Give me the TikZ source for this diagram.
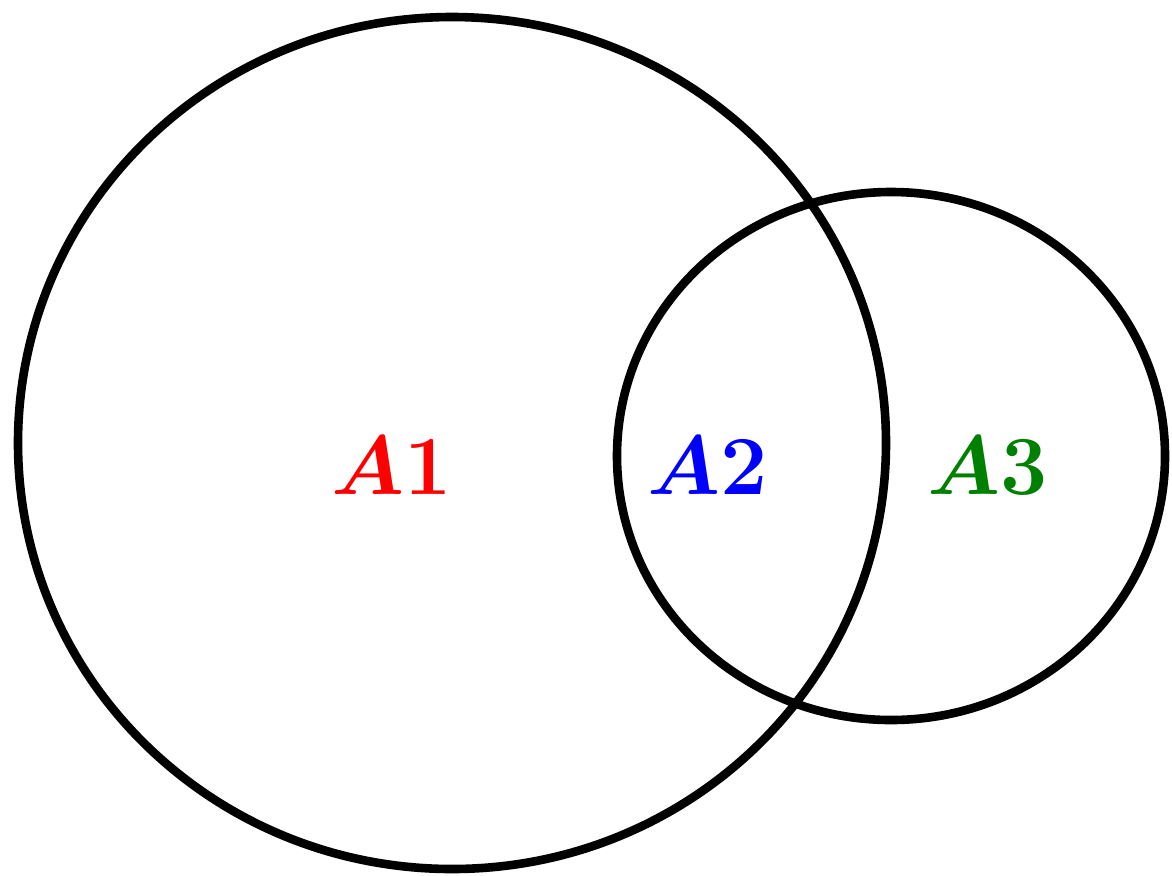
\documentclass[tikz,border=0pt]{standalone}
\usepackage{amsmath,bm}
\usepackage{fix-cm}
\begin{document}
\begin{tikzpicture}[x=0.5pt,y=-0.5pt,
  ring/.style={draw=black,line width=4.3pt},
  lbl/.style={font=\fontsize{42}{46}\selectfont, inner sep=0pt, anchor=center}]
\useasboundingbox (0,0) rectangle (1172,875);
\draw[ring] (452,443) ellipse [x radius=434*0.5pt, y radius=426*0.5pt];
\draw[ring] (891,456) ellipse [x radius=274*0.5pt, y radius=264*0.5pt];
\node[lbl,text=red] (a1) at (392,466) {$\bm{A}\mathbf{1}$};
\node[lbl,text=blue] (a2) at (708,466) {$\bm{A}\mathbf{2}$};
\node[lbl,text={rgb,255:red,0;green,128;blue,0}] (a3) at (988,466) {$\bm{A}\mathbf{3}$};
\end{tikzpicture}
\end{document}
